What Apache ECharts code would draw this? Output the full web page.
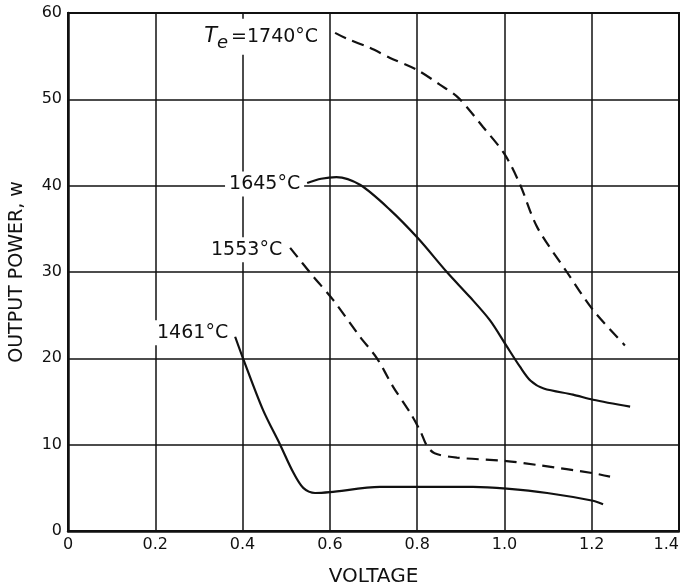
<!DOCTYPE html>
<html>
<head>
<meta charset="utf-8">
<script src="https://cdn.jsdelivr.net/npm/echarts@6/dist/echarts.min.js"></script>
<style>html,body{margin:0;padding:0;background:#fff}#c{width:680px;height:588px}</style>
</head>
<body>
<div id="c"></div>
<script>
// ---- data ----
const xTickLabels = ['0', '0.2', '0.4', '0.6', '0.8', '1.0', '1.2', '1.4'];
const yTickLabels = ['0', '10', '20', '30', '40', '50', '60'];

const t1740 = [[0.612,57.7],[0.640,57.0],[0.690,56.0],[0.738,54.8],[0.800,53.4],[0.852,51.7],[0.894,50.2],[0.951,46.8],[1.001,43.6],[1.036,40.1],[1.075,35.2],[1.143,30.0],[1.203,25.6],[1.276,21.5]];
const t1645 = [[0.548,40.3],[0.580,40.8],[0.615,41.0],[0.669,40.1],[0.738,37.2],[0.802,33.9],[0.868,30.0],[0.921,27.1],[0.967,24.4],[1.004,21.5],[1.036,19.0],[1.060,17.4],[1.090,16.5],[1.157,15.8],[1.203,15.2],[1.288,14.4]];
const t1553 = [[0.509,32.8],[0.560,29.6],[0.607,26.8],[0.669,22.5],[0.708,20.0],[0.745,16.7],[0.784,13.7],[0.808,11.5],[0.822,9.9],[0.840,9.0],[0.891,8.5],[1.005,8.1],[1.082,7.6],[1.203,6.7],[1.242,6.3]];
const t1461 = [[0.383,22.5],[0.401,20.0],[0.447,14.0],[0.486,10.0],[0.516,6.8],[0.539,5.0],[0.566,4.4],[0.600,4.5],[0.715,5.1],[0.802,5.1],[0.928,5.1],[1.005,4.9],[1.098,4.4],[1.203,3.5],[1.226,3.1]];

const FONT = 'DejaVu Sans';

function withStartLabel(arr, label) {
  return arr.map((p, i) => i === 0
    ? { value: p, label: Object.assign({ show: true, position: 'left' }, label) }
    : p);
}

const labelBase = {
  color: '#111', fontFamily: FONT, fontSize: 19,
  backgroundColor: '#fff', padding: [3, 4, 3, 4]
};

function lineSeries(name, data, dashed, label) {
  return {
    name: name, type: 'line', data: withStartLabel(data, label),
    showSymbol: true, showAllSymbol: true, symbol: 'circle', symbolSize: 0,
    smooth: 0.3,
    label: { show: false },
    lineStyle: { color: '#111', width: 2.2, type: dashed ? [12, 7] : 'solid' },
    itemStyle: { color: '#111' },
    z: 3
  };
}

const chart = echarts.init(document.getElementById('c'), null, { renderer: 'canvas' });
chart.setOption({
  animation: false,
  backgroundColor: '#fff',
  grid: { left: 68, right: 1, top: 13, bottom: 57, containLabel: false, outerBoundsMode: 'none',
    show: true, borderColor: '#111', borderWidth: 2, backgroundColor: 'transparent' },
  xAxis: {
    type: 'value', min: 0, max: 1.4, interval: 0.2,
    name: 'VOLTAGE', nameLocation: 'middle', nameGap: 36,
    nameTextStyle: { color: '#111', fontFamily: FONT, fontSize: 20 },
    axisLine: { show: true, lineStyle: { color: '#111', width: 2.5 } },
    axisTick: { show: false },
    axisLabel: { color: '#111', fontFamily: FONT, fontSize: 16, margin: 6, alignMaxLabel: 'right',
      formatter: v => xTickLabels[Math.round(v / 0.2)] },
    splitLine: { show: true, lineStyle: { color: '#111', width: 1.5 } }
  },
  yAxis: {
    type: 'value', min: 0, max: 60, interval: 10,
    name: 'OUTPUT POWER, w', nameLocation: 'middle', nameGap: 41, nameRotate: 90,
    nameTextStyle: { color: '#111', fontFamily: FONT, fontSize: 19 },
    axisLine: { show: true, lineStyle: { color: '#111', width: 2.5 } },
    axisTick: { show: false },
    axisLabel: { color: '#111', fontFamily: FONT, fontSize: 16, margin: 6,
      formatter: v => yTickLabels[Math.round(v / 10)] },
    splitLine: { show: true, lineStyle: { color: '#111', width: 1.5 } }
  },
  series: [
    lineSeries('1740', t1740, true, Object.assign({}, labelBase, {
      distance: 13, offset: [0, 4],
      formatter: '{t|T}{e|e}{n|=1740°C}',
      rich: {
        t: { fontFamily: FONT, fontSize: 21, fontStyle: 'italic', color: '#111' },
        e: { fontFamily: FONT, fontSize: 18, fontStyle: 'italic', color: '#111', padding: [12, 0, 0, 0] },
        n: { fontFamily: FONT, fontSize: 19, color: '#111', padding: [0, 0, 0, 3] }
      }
    })),
    lineSeries('1645', t1645, false, Object.assign({}, labelBase, { distance: 3, offset: [0, 1], formatter: '1645°C' })),
    lineSeries('1553', t1553, true, Object.assign({}, labelBase, { distance: 4, offset: [0, 2], formatter: '1553°C' })),
    lineSeries('1461', t1461, false, Object.assign({}, labelBase, { distance: 3, offset: [0, -4], formatter: '1461°C' }))
  ]
});
</script>
</body>
</html>
